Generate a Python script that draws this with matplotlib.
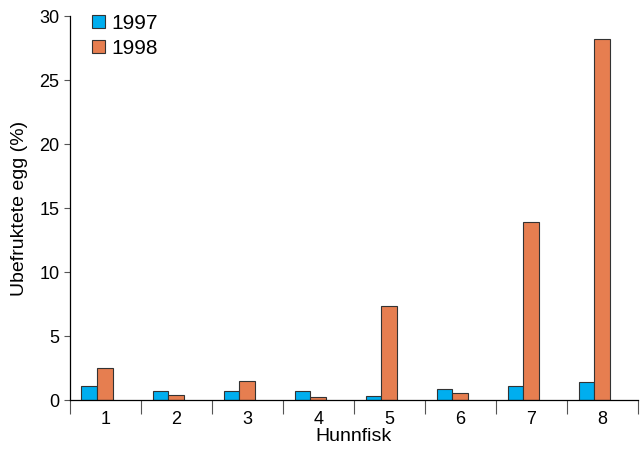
import numpy as np
import matplotlib.pyplot as plt
from matplotlib.ticker import FixedLocator

plt.rcParams['font.family'] = ['Liberation Sans', 'DejaVu Sans']

# Hunnfisk (female fish) 1-8, share of unfertilised eggs in %
fish = [1, 2, 3, 4, 5, 6, 7, 8]
egg_1997 = [1.12, 0.68, 0.68, 0.68, 0.34, 0.86, 1.12, 1.40]
egg_1998 = [2.50, 0.42, 1.48, 0.23, 7.35, 0.52, 13.9, 28.2]

blue = '#00AEEF'
orange = '#E67E50'

fig = plt.figure(figsize=(6.4, 4.5), dpi=100)
ax = fig.add_axes([0.109, 0.111, 0.888, 0.853])

x = np.array(fish)
w = 0.22
ax.bar(x - 0.115 - w / 2, egg_1997, w, color=blue, edgecolor='#333333',
       linewidth=0.8, label='1997')
ax.bar(x - 0.115 + w / 2, egg_1998, w, color=orange, edgecolor='#333333',
       linewidth=0.8, label='1998')

ax.set_xlim(0.5, 8.5)
ax.set_ylim(0, 30)
ax.set_yticks(range(0, 31, 5))
ax.set_xticks(fish)
ax.xaxis.set_minor_locator(FixedLocator(np.arange(0.5, 9, 1)))
ax.tick_params(axis='x', which='major', length=0, labelsize=13, pad=8)
ax.tick_params(axis='x', which='minor', length=10, width=0.8, color='#555555')
ax.tick_params(axis='y', length=4, width=0.8, labelsize=13, color='#555555')

for s in ['top', 'right']:
    ax.spines[s].set_visible(False)
ax.spines['left'].set_linewidth(0.9)
ax.spines['bottom'].set_linewidth(0.9)

ax.set_xlabel('Hunnfisk', fontsize=14, labelpad=0)
ax.set_ylabel('Ubefruktete egg (%)', fontsize=14, labelpad=8)

ax.legend(loc='upper left', bbox_to_anchor=(0.007, 1.055), frameon=False,
          fontsize=15, handlelength=0.6, handleheight=0.6,
          handletextpad=0.3, labelspacing=0.3)

plt.savefig('out.png', dpi=100)
